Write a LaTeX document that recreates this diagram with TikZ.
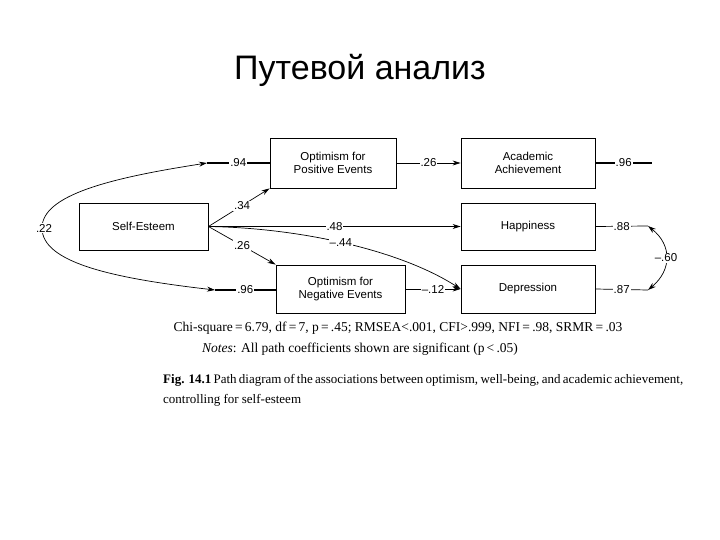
\documentclass[tikz,border=0pt]{standalone}
\usepackage{fontspec}
\setmainfont{Liberation Serif}
\newfontfamily\mysans{Liberation Sans}
\usetikzlibrary{arrows.meta}
\begin{document}
\begin{tikzpicture}[x=1pt,y=-1pt,
 box/.style={draw,line width=0.9pt,inner sep=0pt,font=\mysans\fontsize{11.5}{13}\selectfont,align=center},
 lab/.style={fill=white,inner sep=1pt,font=\mysans\fontsize{11.5}{13}\selectfont},
 tip/.style={Stealth[length=8pt,width=5pt]},
 ar/.style={-{Stealth[length=8pt,width=5pt]},line width=0.7pt},
 ln/.style={line width=1.2pt}]
\useasboundingbox (0,0) rectangle (720,540);
\node[font=\mysans\fontsize{34}{38}\selectfont] (title) at (360,70) {Путевой анализ};
\node[box,minimum width=129pt,minimum height=47pt] (se) at (143.5,226.5) {Self-Esteem};
\node[box,minimum width=126pt,minimum height=50pt] (op) at (333,163) {Optimism for\\Positive Events};
\node[box,minimum width=134pt,minimum height=50pt] (aa) at (528,163) {Academic\\Achievement};
\node[box,minimum width=134pt,minimum height=47pt] (ha) at (528,226.5) {Happiness};
\node[box,minimum width=129pt,minimum height=48pt] (on) at (340.5,289) {Optimism for\\Negative Events};
\node[box,minimum width=134pt,minimum height=48pt] (de) at (528,289) {Depression};
\coordinate (r1) at (207,163);
\coordinate (r2) at (215,290);
\coordinate (aae) at (652,163);
\coordinate (hae) at (648,226);
\coordinate (dee) at (648,290);
\draw[{Stealth[length=8pt,width=5pt]}-{Stealth[length=8pt,width=5pt]},line width=0.7pt] (r1) .. controls (110,178) and (42,195) .. (42,228) .. controls (42,262) and (110,278) .. (r2);
\node[lab] (l22) at (44,228) {.22};
\draw[ln] (r1) -- (op.west) node[lab,midway]{.94};
\draw[ln] (r2) -- (on.west |- r2) node[lab,midway]{.96};
\draw[ar] (se.east) -- (op.south west) node[lab,pos=0.55]{.34};
\draw[ar] (se.east) -- (on.north west) node[lab,pos=0.5]{.26};
\draw[ar] (se.east) -- (ha.west) node[lab,pos=0.5]{.48};
\draw[ar] (se.east) .. controls (300,228) and (400,250) .. (de.west) node[lab,pos=0.48]{–.44};
\draw[ar] (op.east) -- (aa.west) node[lab,midway]{.26};
\draw[ar] (on.east |- de.west) -- (de.west) node[lab,midway]{–.12};
\draw[ln] (aa.east) -- (aae) node[lab,midway]{.96};
\draw[line width=0.7pt] (ha.east) -- (hae) node[lab,midway]{.88};
\draw[line width=0.7pt] (de.east) -- (dee) node[lab,midway]{.87};
\draw[{Stealth[length=8pt,width=5pt]}-{Stealth[length=8pt,width=5pt]},line width=0.7pt] (hae) .. controls (672,245) and (672,270) .. (dee) node[lab,midway]{–.60};
\node[font=\fontsize{13.5}{15}\selectfont] (chi) at (398,328) {Chi-square\,=\,6.79, df\,=\,7, p\,=\,.45; RMSEA<.001, CFI>.999, NFI\,=\,.98, SRMR\,=\,.03};
\node[font=\fontsize{13.5}{15}\selectfont] (notes) at (360,349) {\textit{Notes}: All path coefficients shown are significant (p\,<\,.05)};
\node[font=\fontsize{13}{20}\selectfont,text width=520pt,align=justify,anchor=north west,inner sep=0pt] (cap) at (163,374) {\textbf{Fig. 14.1} Path diagram of the associations between optimism, well-being, and academic achievement, controlling for self-esteem};
\end{tikzpicture}
\end{document}
